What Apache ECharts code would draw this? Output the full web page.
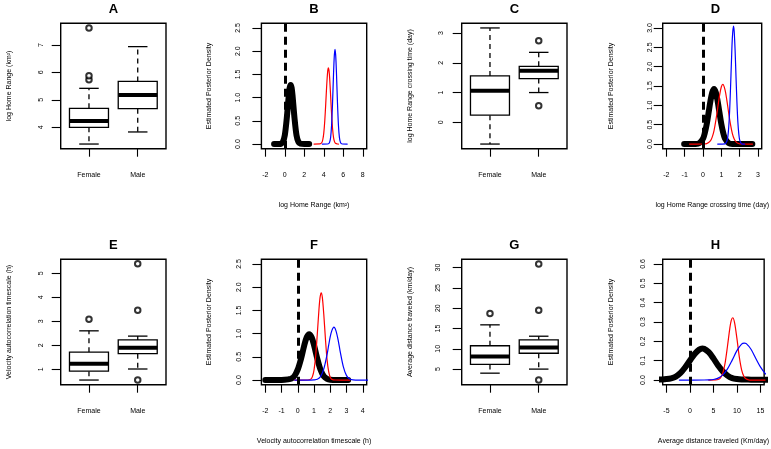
<!DOCTYPE html>
<html><head><meta charset="utf-8">
<script src="https://cdn.jsdelivr.net/npm/echarts@6/dist/echarts.min.js"></script>
<style>html,body{margin:0;padding:0;background:#fff}#c{width:771px;height:449px}</style>
</head><body><div id="c"></div>
<script>
// ---------- data ----------
const groups = ['Female', 'Male'];

// A: log Home Range (boxplot: lowWhisker, Q1, median, Q3, highWhisker)
const aFemaleBox = [3.39, 4.00, 4.23, 4.69, 5.42];
const aMaleBox = [3.83, 4.68, 5.18, 5.67, 6.94];
const aFemaleOut = [5.73, 5.88, 7.62];
const aMaleOut = [];
const aYTicks = [4, 5, 6, 7];

// C: log Home Range crossing time
const cFemaleBox = [-0.73, 0.24, 1.06, 1.56, 3.17];
const cMaleBox = [1.00, 1.47, 1.73, 1.88, 2.35];
const cFemaleOut = [];
const cMaleOut = [2.74, 0.56];
const cYTicks = [0, 1, 2, 3];

// E: Velocity autocorrelation timescale
const eFemaleBox = [0.55, 0.92, 1.23, 1.71, 2.60];
const eMaleBox = [1.01, 1.65, 1.90, 2.22, 2.38];
const eFemaleOut = [3.08];
const eMaleOut = [5.39, 3.46, 0.55];
const eYTicks = [1, 2, 3, 4, 5];

// G: Average distance traveled
const gFemaleBox = [4.0, 6.15, 8.1, 10.75, 15.9];
const gMaleBox = [5.0, 8.9, 10.3, 12.2, 13.1];
const gFemaleOut = [18.7];
const gMaleOut = [30.9, 19.5, 2.3];
const gYTicks = [5, 10, 15, 20, 25, 30];

// B: posterior densities, log Home Range
const bBlackX = [-1.1, -0.6, -0.4, -0.2, 0.0, 0.2, 0.4, 0.5, 0.6, 0.7, 0.8, 1.0, 1.2, 1.4, 1.6, 2.0, 2.5];
const bBlackY = [0, 0.001, 0.007, 0.045, 0.19, 0.55, 1.03, 1.21, 1.27, 1.21, 1.03, 0.55, 0.19, 0.045, 0.007, 0, 0];
const bRedX = [3.0, 3.6, 3.8, 3.9, 4.0, 4.1, 4.2, 4.3, 4.4, 4.47, 4.54, 4.6, 4.7, 4.8, 4.9, 5.0, 5.1, 5.2, 5.4, 5.5];
const bRedY = [0, 0.002, 0.033, 0.098, 0.24, 0.50, 0.87, 1.27, 1.57, 1.64, 1.57, 1.42, 1.04, 0.64, 0.33, 0.14, 0.052, 0.016, 0.001, 0];
const bBlueX = [3.85, 4.4, 4.5, 4.6, 4.7, 4.8, 4.9, 5.0, 5.08, 5.15, 5.22, 5.3, 5.4, 5.5, 5.6, 5.7, 5.8, 5.9, 6.4];
const bBlueY = [0, 0.001, 0.008, 0.04, 0.145, 0.41, 0.90, 1.52, 1.91, 2.04, 1.91, 1.52, 0.90, 0.41, 0.145, 0.04, 0.008, 0.001, 0];
const bXTicks = [-2, 0, 2, 4, 6, 8];
const bYTicks = [0, 0.5, 1, 1.5, 2, 2.5];

// D: posterior densities, crossing time
const dBlackX = [-1.03, -0.4, -0.2, 0.0, 0.1, 0.2, 0.3, 0.4, 0.5, 0.6, 0.7, 0.8, 0.9, 1.0, 1.1, 1.2, 1.4, 1.6, 2.0, 2.69];
const dBlackY = [0, 0.002, 0.024, 0.14, 0.29, 0.51, 0.80, 1.10, 1.33, 1.42, 1.33, 1.10, 0.80, 0.51, 0.29, 0.14, 0.024, 0.002, 0, 0];
const dRedX = [-0.74, 0.0, 0.2, 0.4, 0.5, 0.6, 0.7, 0.8, 0.9, 1.0, 1.08, 1.2, 1.3, 1.4, 1.5, 1.6, 1.7, 1.8, 1.9, 2.0, 2.2, 2.7];
const dRedY = [0, 0.001, 0.011, 0.08, 0.18, 0.35, 0.61, 0.93, 1.25, 1.48, 1.54, 1.40, 1.13, 0.80, 0.50, 0.27, 0.13, 0.056, 0.021, 0.007, 0.001, 0];
const dBlueX = [0.8, 1.2, 1.3, 1.35, 1.4, 1.45, 1.5, 1.55, 1.6, 1.66, 1.7, 1.75, 1.8, 1.85, 1.9, 1.95, 2.0, 2.1, 2.27];
const dBlueY = [0, 0.006, 0.07, 0.18, 0.43, 0.85, 1.45, 2.14, 2.75, 3.05, 2.91, 2.41, 1.72, 1.07, 0.57, 0.27, 0.10, 0.011, 0];
const dXTicks = [-2, -1, 0, 1, 2, 3];
const dYTicks = [0, 0.5, 1, 1.5, 2, 2.5, 3];

// F: posterior densities, velocity autocorrelation timescale
const fBlackX = [-2.0, -1.0, -0.6, -0.4, -0.2, 0.0, 0.2, 0.4, 0.55, 0.7, 0.85, 1.0, 1.2, 1.4, 1.6, 1.8, 2.0, 2.4, 3.1];
const fBlackY = [0, 0.003, 0.015, 0.03, 0.09, 0.23, 0.46, 0.75, 0.92, 0.985, 0.92, 0.75, 0.46, 0.22, 0.08, 0.025, 0.006, 0, 0];
const fRedX = [-0.19, 0.6, 0.8, 0.9, 1.0, 1.1, 1.2, 1.3, 1.37, 1.44, 1.51, 1.6, 1.7, 1.8, 1.9, 2.0, 2.1, 2.3, 3.2];
const fRedY = [0, 0.001, 0.02, 0.073, 0.22, 0.52, 0.99, 1.51, 1.78, 1.88, 1.78, 1.41, 0.89, 0.44, 0.18, 0.057, 0.015, 0.001, 0];
const fBlueX = [-0.19, 0.8, 1.0, 1.2, 1.4, 1.6, 1.8, 1.9, 2.0, 2.1, 2.22, 2.35, 2.5, 2.6, 2.8, 3.0, 3.2, 3.4, 3.8, 4.34];
const fBlueY = [0, 0, 0.003, 0.016, 0.074, 0.24, 0.55, 0.75, 0.94, 1.07, 1.14, 1.06, 0.83, 0.63, 0.29, 0.095, 0.023, 0.004, 0, 0];
const fXTicks = [-2, -1, 0, 1, 2, 3, 4];
const fYTicks = [0, 0.5, 1, 1.5, 2, 2.5];

// H: posterior densities, average distance traveled
const hBlackX = [-7, -6, -5, -4, -3, -2, -1, 0, 1, 2, 2.65, 3, 4, 5, 6, 7, 8, 9, 10, 11, 13, 15, 17];
const hBlackY = [0.002, 0.003, 0.005, 0.009, 0.018, 0.037, 0.066, 0.101, 0.135, 0.158, 0.163, 0.162, 0.144, 0.112, 0.075, 0.045, 0.023, 0.010, 0.005, 0.003, 0.002, 0.001, 0.001];
const hRedX = [4, 5.5, 6, 6.5, 7, 7.5, 8, 8.5, 8.8, 9.1, 9.5, 10, 10.5, 11, 11.5, 12, 12.5, 13, 16];
const hRedY = [0, 0.0005, 0.003, 0.011, 0.036, 0.09, 0.176, 0.27, 0.308, 0.322, 0.297, 0.215, 0.121, 0.053, 0.018, 0.005, 0.001, 0, 0];
const hBlueX = [-2.25, 3, 4, 5, 6, 7, 8, 9, 10, 11, 11.55, 12, 13, 14, 15, 16, 17];
const hBlueY = [0, 0.0002, 0.001, 0.003, 0.01, 0.027, 0.058, 0.103, 0.152, 0.186, 0.191, 0.188, 0.159, 0.113, 0.068, 0.035, 0.015];
const hXTicks = [-5, 0, 5, 10, 15];
const hYTicks = [0, 0.1, 0.2, 0.3, 0.4, 0.5, 0.6];

// ---------- layout ----------
const FONT = 'Liberation Sans, Arial, sans-serif';
const cols = [60.7, 261.4, 461.7, 662.7];
const rows = [23.3, 259.3];
const W = 105.3, H = 125.4;

const grid = [], xAxis = [], yAxis = [], series = [], graphic = [];
const tickStyle = { color: '#000', width: 1.1 };
const lblBase = { fontFamily: FONT, fontSize: 7, color: '#000' };
const nameStyle = { fontFamily: FONT, fontSize: 7, color: '#000' };

function addGrid(col, row, title) {
  grid.push({ left: cols[col], top: rows[row], width: W, height: H, show: true,
    borderColor: '#000', borderWidth: 1.4, backgroundColor: 'transparent' });
  graphic.push({ type: 'text', x: cols[col] + W / 2, y: rows[row] - 14,
    style: { text: title, fill: '#000', font: 'bold 13px ' + FONT,
      align: 'center', verticalAlign: 'middle', textAlign: 'center', textVerticalAlign: 'middle' } });
  return grid.length - 1;
}

function pairs(xs, ys) { return xs.map((x, i) => [x, ys[i]]); }

function renderBox(params, api) {
  const x = api.value(0);
  const lo = api.coord([x, api.value(1)]);
  const q1 = api.coord([x, api.value(2)]);
  const md = api.coord([x, api.value(3)]);
  const q3 = api.coord([x, api.value(4)]);
  const hi = api.coord([x, api.value(5)]);
  const bw = api.size([0.8, 0])[0];
  const cx = md[0], h = bw / 2, s = bw / 4;
  const ls = { stroke: '#000', lineWidth: 1.3, fill: null };
  const dash = { stroke: '#000', lineWidth: 1.3, lineDash: [5, 4], fill: null };
  return { type: 'group', children: [
    { type: 'line', shape: { x1: cx, y1: q3[1], x2: cx, y2: hi[1] }, style: dash },
    { type: 'line', shape: { x1: cx, y1: q1[1], x2: cx, y2: lo[1] }, style: dash },
    { type: 'line', shape: { x1: cx - s, y1: hi[1], x2: cx + s, y2: hi[1] }, style: ls },
    { type: 'line', shape: { x1: cx - s, y1: lo[1], x2: cx + s, y2: lo[1] }, style: ls },
    { type: 'rect', shape: { x: cx - h, y: q3[1], width: bw, height: q1[1] - q3[1] },
      style: { stroke: '#000', lineWidth: 1.3, fill: '#fff' } },
    { type: 'line', shape: { x1: cx - h, y1: md[1], x2: cx + h, y2: md[1] },
      style: { stroke: '#000', lineWidth: 4 } }
  ] };
}

function addBoxPanel(col, row, title, yName, yMin, yMax, yTicks, boxF, boxM, outF, outM, yLblMargin) {
  const g = addGrid(col, row, title);
  xAxis.push({ gridIndex: g, type: 'value', min: 0.42, max: 2.58,
    splitLine: { show: false }, axisLine: { show: false, onZero: false },
    axisTick: { show: true, length: 8, lineStyle: tickStyle, customValues: [1, 2] },
    axisLabel: Object.assign({}, lblBase, { margin: 22.5, customValues: [1, 2],
      formatter: v => groups[Math.round(v) - 1] }) });
  yAxis.push({ gridIndex: g, type: 'value', min: yMin, max: yMax,
    name: yName, nameLocation: 'middle', nameGap: 48.5, nameRotate: 90, nameTextStyle: nameStyle,
    splitLine: { show: false }, axisLine: { show: false, onZero: false },
    axisTick: { show: true, length: 9, lineStyle: tickStyle, customValues: yTicks },
    axisLabel: Object.assign({}, lblBase, { margin: yLblMargin, rotate: 90, customValues: yTicks }) });
  series.push({ type: 'custom', xAxisIndex: g, yAxisIndex: g, renderItem: renderBox, silent: true,
    encode: { x: 0, y: [1, 2, 3, 4, 5] },
    data: [[1].concat(boxF), [2].concat(boxM)] });
  series.push({ type: 'scatter', xAxisIndex: g, yAxisIndex: g, symbol: 'emptyCircle', symbolSize: 5.5,
    silent: true, itemStyle: { color: '#000', borderColor: '#000', borderWidth: 1.3 },
    data: outF.map(v => [1, v]).concat(outM.map(v => [2, v])) });
}

function addDensPanel(col, row, title, xName, xMin, xMax, xTicks, yMin, yMax, yTicks, curves, yLblMargin) {
  const g = addGrid(col, row, title);
  xAxis.push({ gridIndex: g, type: 'value', min: xMin, max: xMax,
    name: xName, nameLocation: 'middle', nameGap: 53, nameTextStyle: nameStyle,
    splitLine: { show: false }, axisLine: { show: false, onZero: false },
    axisTick: { show: true, length: 8, lineStyle: tickStyle, customValues: xTicks },
    axisLabel: Object.assign({}, lblBase, { margin: 22.5, customValues: xTicks }) });
  yAxis.push({ gridIndex: g, type: 'value', min: yMin, max: yMax,
    name: 'Estimated Posterior Density', nameLocation: 'middle', nameGap: 48.5, nameRotate: 90, nameTextStyle: nameStyle,
    splitLine: { show: false }, axisLine: { show: false, onZero: false },
    axisTick: { show: true, length: 9, lineStyle: tickStyle, customValues: yTicks },
    axisLabel: Object.assign({}, lblBase, { margin: yLblMargin, rotate: 90, customValues: yTicks,
      formatter: v => v.toFixed(1) }) });
  curves.forEach((c, i) => {
    const s = { type: 'line', xAxisIndex: g, yAxisIndex: g, data: pairs(c.x, c.y),
      showSymbol: false, smooth: 0.3, silent: true, z: 2 + i,
      lineStyle: { color: c.color, width: c.width, cap: 'round', join: 'round' } };
    if (i === 0) {
      s.markLine = { silent: true, symbol: ['none', 'none'], label: { show: false },
        lineStyle: { color: '#000', width: 3, type: [8, 5] }, data: [{ xAxis: 0 }] };
    }
    series.push(s);
  });
}

const BLACK = '#000', RED = '#ff0000', BLUE = '#0000ff';

addBoxPanel(0, 0, 'A', 'log Home Range (km²)', 3.22, 7.79, aYTicks, aFemaleBox, aMaleBox, aFemaleOut, aMaleOut, 16.5);
addDensPanel(1, 0, 'B', 'log Home Range (km²)', -2.4, 8.4, bXTicks, -0.1, 2.6, bYTicks, [
  { x: bBlackX, y: bBlackY, color: BLACK, width: 6 },
  { x: bRedX, y: bRedY, color: RED, width: 1.2 },
  { x: bBlueX, y: bBlueY, color: BLUE, width: 1.2 }], 20);
addBoxPanel(2, 0, 'C', 'log Home Range crossing time (day)', -0.886, 3.326, cYTicks, cFemaleBox, cMaleBox, cFemaleOut, cMaleOut, 17.5);
addDensPanel(3, 0, 'D', 'log Home Range crossing time (day)', -2.2, 3.2, dXTicks, -0.12, 3.12, dYTicks, [
  { x: dBlackX, y: dBlackY, color: BLACK, width: 6 },
  { x: dRedX, y: dRedY, color: RED, width: 1.2 },
  { x: dBlueX, y: dBlueY, color: BLUE, width: 1.2 }], 9);
addBoxPanel(0, 1, 'E', 'Velocity autocorrelation timescale (h)', 0.356, 5.58, eYTicks, eFemaleBox, eMaleBox, eFemaleOut, eMaleOut, 16.5);
addDensPanel(1, 1, 'F', 'Velocity autocorrelation timescale (h)', -2.24, 4.24, fXTicks, -0.1, 2.6, fYTicks, [
  { x: fBlackX, y: fBlackY, color: BLACK, width: 6 },
  { x: fRedX, y: fRedY, color: RED, width: 1.2 },
  { x: fBlueX, y: fBlueY, color: BLUE, width: 1.2 }], 19);
addBoxPanel(2, 1, 'G', 'Average distance traveled (km/day)', 1.16, 32.04, gYTicks, gFemaleBox, gMaleBox, gFemaleOut, gMaleOut, 20);
addDensPanel(3, 1, 'H', 'Average distance traveled (Km/day)', -5.8, 15.8, hXTicks, -0.024, 0.624, hYTicks, [
  { x: hBlackX, y: hBlackY, color: BLACK, width: 6 },
  { x: hRedX, y: hRedY, color: RED, width: 1.2 },
  { x: hBlueX, y: hBlueY, color: BLUE, width: 1.2 }], 16.5);

const chart = echarts.init(document.getElementById('c'), null, { renderer: 'canvas' });
chart.setOption({ animation: false, backgroundColor: '#fff', grid, xAxis, yAxis, series, graphic });
</script></body></html>
